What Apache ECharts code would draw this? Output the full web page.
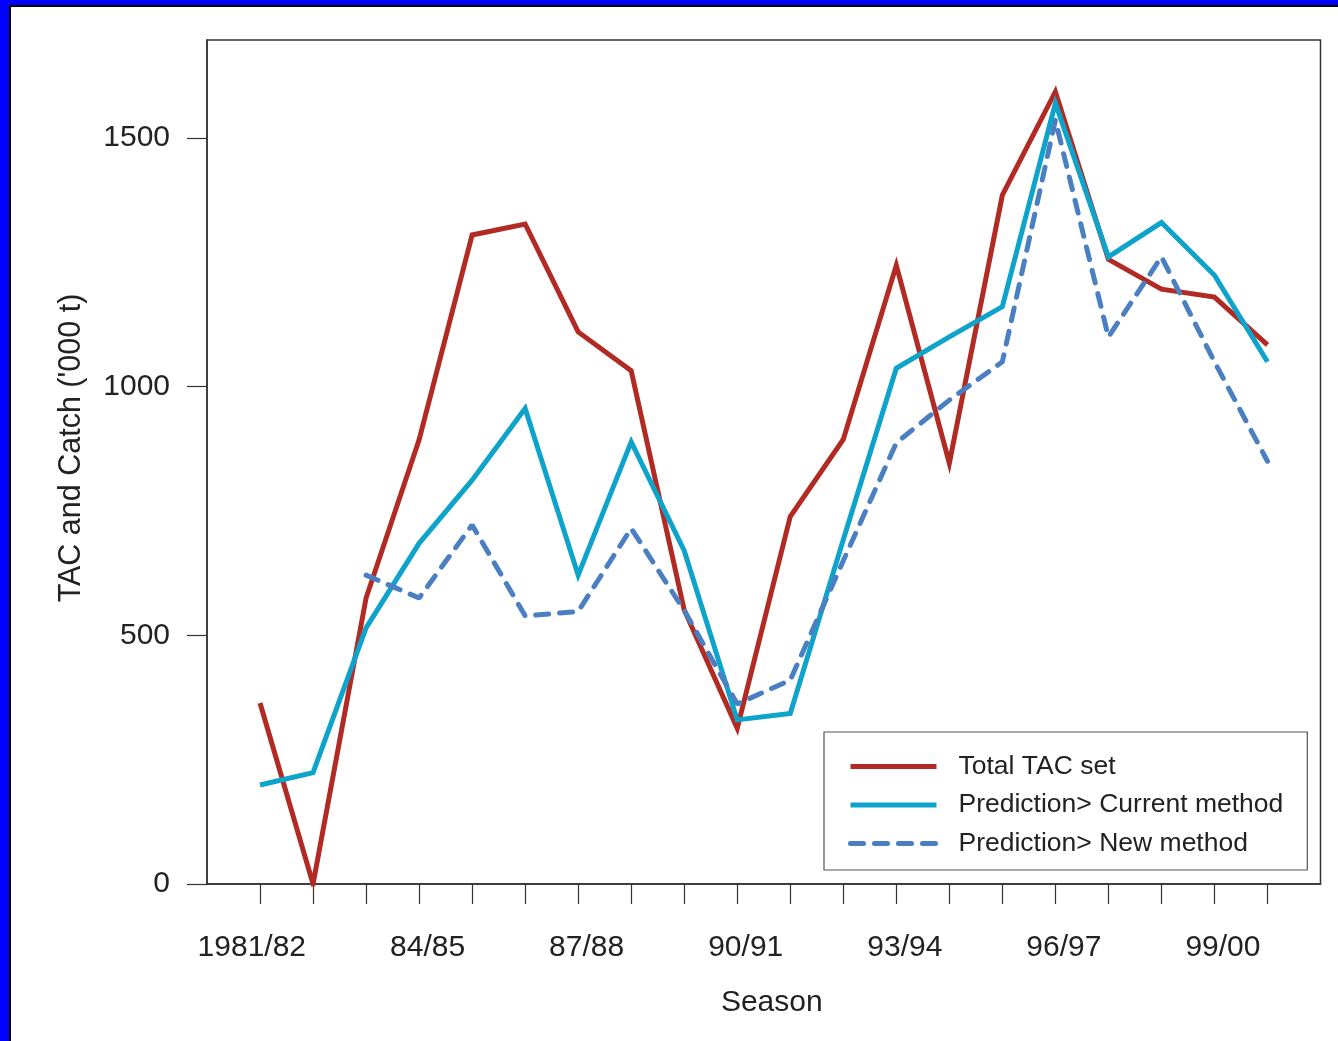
<!DOCTYPE html>
<html>
<head>
<meta charset="utf-8">
<script src="https://cdn.jsdelivr.net/npm/echarts@6/dist/echarts.min.js"></script>
<style>
  html, body { margin: 0; padding: 0; }
  #frame { position: absolute; left: 0; top: 0; width: 1338px; height: 1041px; background: #0000ff; }
  #paper { position: absolute; left: 9px; top: 5px; right: 0; bottom: 0; background: #fff; border-left: 2px solid #000; border-top: 2px solid #000; }
  #chart { position: absolute; left: 0; top: 0; width: 1338px; height: 1041px; }
</style>
</head>
<body>
<div id="frame"><div id="paper"></div></div>
<div id="chart"></div>
<script>
// Seasons 1981/82 .. 2000/01
const seasons = ['1981/82','82/83','83/84','84/85','85/86','86/87','87/88','88/89','89/90','90/91',
                 '91/92','92/93','93/94','94/95','95/96','96/97','97/98','98/99','99/00','00/01'];
const labelledSeasons = ['1981/82','84/85','87/88','90/91','93/94','96/97','99/00'];
const yTicks = [0, 500, 1000, 1500];

const totalTAC      = [364, 0, 575, 893, 1305, 1327, 1110, 1032, 551, 313, 739, 894, 1244, 846, 1385, 1593, 1256, 1196, 1180, 1084];
const predCurrent   = [199, 224, 515, 685, 812, 956, 621, 889, 670, 330, 343, 692, 1037, 1100, 1161, 1570, 1261, 1330, 1224, 1050];
const predNew       = [null, null, 621, 575, 722, 539, 548, 715, 550, 362, 410, 650, 887, 973, 1050, 1536, 1100, 1261, 1050, 850];

const toXY = arr => arr.map((v, i) => [i, v]);
const labelShift = 46 / 53; // labels are right-aligned slightly right of their tick
const labelPos = labelledSeasons.map(s => seasons.indexOf(s) + labelShift);

const font = '"Liberation Sans", Arial, Helvetica, sans-serif';
const ink = '#222';
const axisCol = '#333';

const chart = echarts.init(document.getElementById('chart'), null, { renderer: 'canvas' });
chart.setOption({
  backgroundColor: 'transparent',
  animation: false,
  textStyle: { fontFamily: font, color: ink },
  grid: {
    left: 207, top: 40, right: 17.5, bottom: 157,
    show: true, borderColor: axisCol, borderWidth: 1.5, backgroundColor: 'transparent'
  },
  legend: {
    orient: 'vertical',
    left: 824, top: 732,
    padding: [21, 24, 13, 24],
    itemGap: 11.5,
    itemWidth: 86, itemHeight: 14,
    borderColor: '#555', borderWidth: 1.2,
    backgroundColor: '#fff',
    itemStyle: { opacity: 0 },
    lineStyle: { width: 5 },
    textStyle: { fontSize: 26.5, color: ink, fontFamily: font, padding: [0, 0, 0, 17] },
    data: ['Total TAC set', 'Prediction> Current method', 'Prediction> New method']
  },
  xAxis: {
    type: 'value', min: -1, max: 20,
    name: 'Season', nameLocation: 'middle', nameGap: 104,
    nameTextStyle: { fontSize: 30, color: ink, fontFamily: font, padding: [0, 0, 0, 16] },
    axisLine: { show: true, onZero: false, lineStyle: { color: axisCol, width: 1.5 } },
    axisTick: { show: true, inside: false, length: 20, lineStyle: { color: axisCol, width: 1.2 },
                customValues: seasons.map((s, i) => i) },
    axisLabel: {
      show: true, fontSize: 30, color: ink, fontFamily: font, margin: 49, align: 'right',
      customValues: labelPos,
      formatter: v => labelledSeasons[labelPos.findIndex(p => Math.abs(p - v) < 1e-6)] || ''
    },
    splitLine: { show: false }
  },
  yAxis: {
    type: 'value', min: 0, max: 1697,
    name: "TAC and Catch ('000 t)", nameLocation: 'middle', nameGap: 120, nameRotate: 90,
    nameTextStyle: { fontSize: 30.5, color: ink, fontFamily: font, padding: [0, 0, 0, 28] },
    axisLine: { show: true, onZero: false, lineStyle: { color: axisCol, width: 1.5 } },
    axisTick: { show: true, inside: false, length: 20, lineStyle: { color: axisCol, width: 1.2 }, customValues: yTicks },
    axisLabel: { show: true, fontSize: 30, color: ink, fontFamily: font, margin: 37, customValues: yTicks,
                 formatter: v => String(v) },
    splitLine: { show: false }
  },
  series: [
    {
      name: 'Total TAC set', type: 'line', data: toXY(totalTAC),
      symbol: 'none', z: 2,
      lineStyle: { color: '#b22a24', width: 5, join: 'miter' },
      itemStyle: { color: '#b22a24' }
    },
    {
      name: 'Prediction> Current method', type: 'line', data: toXY(predCurrent),
      symbol: 'none', z: 3,
      lineStyle: { color: '#0ea3cb', width: 5, join: 'miter' },
      itemStyle: { color: '#0ea3cb' }
    },
    {
      name: 'Prediction> New method', type: 'line', data: toXY(predNew),
      symbol: 'none', z: 4, connectNulls: false,
      lineStyle: { color: '#4a7fc1', width: 5, type: [13, 11], cap: 'round' },
      itemStyle: { color: '#4a7fc1' }
    }
  ]
});
</script>
</body>
</html>
